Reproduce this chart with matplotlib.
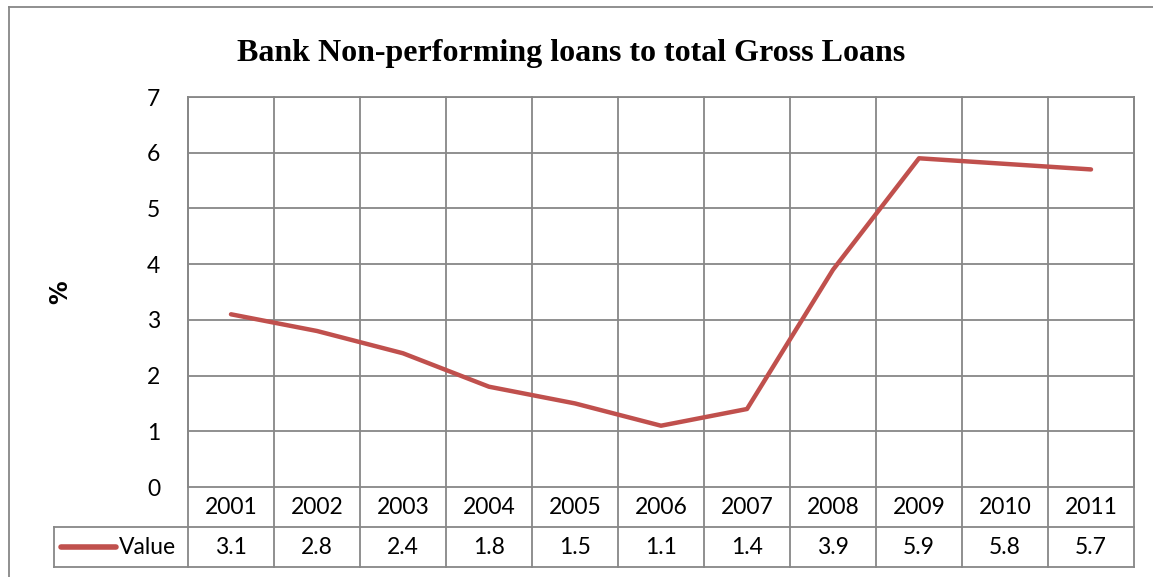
import matplotlib
matplotlib.use("Agg")
import matplotlib.pyplot as plt
from matplotlib.lines import Line2D
from matplotlib.transforms import blended_transform_factory

# NPL ratio by year
years = ["2001", "2002", "2003", "2004", "2005", "2006", "2007", "2008", "2009", "2010", "2011"]
values = [3.1, 2.8, 2.4, 1.8, 1.5, 1.1, 1.4, 3.9, 5.9, 5.8, 5.7]
series_name = "Value"
title = "Bank Non-performing loans to total Gross Loans"
y_label = "%"

W, H = 1153, 577
grid_col = "#878787"
line_col = "#C0504D"
txt_font = ["Lato", "DejaVu Sans"]

fig = plt.figure(figsize=(W / 100, H / 100), dpi=100)
fig.patch.set_facecolor("white")

def fx(px):
    return px / W

def fy(py):
    return 1 - py / H

# plot area in pixels: left 188, right 1134, top 97, bottom 487
ax = fig.add_axes([fx(188), fy(487), fx(1134) - fx(188), (487 - 97) / H])
n = len(years)
xs = [i + 0.5 for i in range(n)]
ax.set_xlim(0, n)
ax.set_ylim(0, 7)
ax.set_yticks(range(8))
ax.set_yticklabels([str(v) for v in range(8)], fontsize=16.5, family=txt_font)
ax.tick_params(axis="y", length=0, pad=20)
ax.set_xticks([])
for s in ax.spines.values():
    s.set_color(grid_col)
    s.set_linewidth(1.3)

for v in range(1, 8):
    ax.axhline(v, color=grid_col, lw=1.3, zorder=1)

ax.plot(xs, values, color=line_col, lw=3.2, solid_capstyle="round",
        solid_joinstyle="round", zorder=3)

# data table under the axis
tr = blended_transform_factory(ax.transData, ax.transAxes)
row_h = 40 / 390
legend_left = (54 - 188) / 86
for i in range(n + 1):
    ax.plot([i, i], [-2 * row_h, 1], color=grid_col, lw=1.3,
            transform=tr, clip_on=False, zorder=1)
for k in (1, 2):
    ax.plot([legend_left, n], [-k * row_h, -k * row_h], color=grid_col, lw=1.3,
            transform=tr, clip_on=False)
ax.plot([legend_left, legend_left], [-row_h, -2 * row_h], color=grid_col, lw=1.3,
        transform=tr, clip_on=False)

for x, yr, v in zip(xs, years, values):
    ax.text(x, -0.5 * row_h, yr, transform=tr, ha="center", va="center",
            fontsize=16.5, family=txt_font)
    ax.text(x, -1.5 * row_h, f"{v:.1f}", transform=tr, ha="center", va="center",
            fontsize=16.5, family=txt_font)

# legend key inside the table
key_y = -1.5 * row_h
ax.plot([(61 - 188) / 86, (116 - 188) / 86], [key_y, key_y], color=line_col, lw=4,
        solid_capstyle="round", transform=tr, clip_on=False)
ax.text((119 - 188) / 86, key_y, series_name, transform=tr, ha="left", va="center",
        fontsize=16.5, family=txt_font)

fig.text(fx(571), fy(53), title, ha="center", va="center", fontsize=23,
         fontweight="bold", family=["Liberation Serif", "DejaVu Serif"])
fig.text(fx(60), fy(292), y_label, ha="center", va="center", rotation=90,
         fontsize=17, fontweight="heavy", family=["DejaVu Sans"])

# chart border (left and top edges)
fig.add_artist(Line2D([fx(9), fx(9)], [fy(7), 0], color=grid_col, lw=1.3))
fig.add_artist(Line2D([fx(9), 1], [fy(7), fy(7)], color=grid_col, lw=1.3))

fig.savefig("out.png", dpi=100, facecolor="white")
